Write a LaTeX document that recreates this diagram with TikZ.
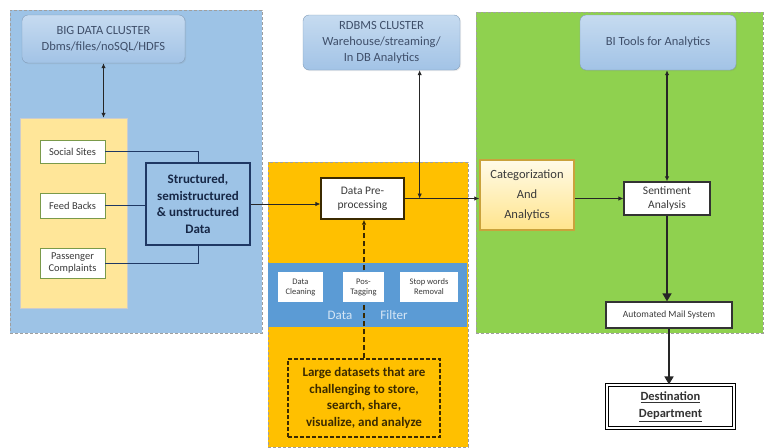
\documentclass[tikz,border=0pt]{standalone}
\usepackage{fontspec}
\setmainfont{Carlito}
\usepackage{tikz}
\usetikzlibrary{arrows.meta, positioning, calc, shadows}

\definecolor{panelblue}{HTML}{9DC3E6}
\definecolor{panelyellow}{HTML}{FFE699}
\definecolor{panelorange}{HTML}{FFC000}
\definecolor{panelgreen}{HTML}{8FD14F}
\definecolor{filterblue}{HTML}{5B9BD5}
\definecolor{clustertop}{HTML}{C6DBF0}
\definecolor{clusterbot}{HTML}{A2C3E6}
\definecolor{clustertext}{HTML}{3F4F6A}
\definecolor{navyline}{HTML}{1F3864}
\definecolor{textgrey}{HTML}{3A3A3A}
\definecolor{srcborder}{HTML}{7A9A4A}
\definecolor{goldborder}{HTML}{C9A23C}
\definecolor{categtop}{HTML}{FFFBE8}
\definecolor{categbot}{HTML}{FFE48C}
\definecolor{darkbrown}{HTML}{3B2A00}

\newcommand{\fsz}[2]{\fontsize{#1}{#2}\selectfont}

\begin{document}
\begin{tikzpicture}[
    x=1pt, y=-1pt,
    >={Latex[length=5pt,width=4.5pt]}
]
    \useasboundingbox (0,0) rectangle (765,447);

    % Styles for panels and blocks
    \tikzstyle{panel} = [draw=gray!75, densely dashed, thin, inner sep=0pt]
    \tikzstyle{cluster} = [rounded corners=6pt, draw=clusterbot!80!black, thin, top color=clustertop, bottom color=clusterbot, align=center, text=clustertext, inner sep=0pt, font=\fsz{12.5}{16}, drop shadow={opacity=0.15, shadow xshift=1pt, shadow yshift=-1pt}]
    \tikzstyle{srcbox} = [draw=srcborder, fill=white, align=center, inner sep=0pt, minimum width=65pt, text=textgrey, font=\fsz{10.5}{12}]
    \tikzstyle{filterbox} = [fill=white, align=center, inner sep=0pt, minimum height=30pt, text=textgrey, font=\fsz{8.5}{10}]
    \tikzstyle{stepbox} = [draw=black!80, fill=white, line width=1.3pt, align=center, inner sep=0pt, text=textgrey]
    \tikzstyle{thickline} = [line width=1.6pt, draw=black!85]

    % Panels
    \node [panel, fill=panelblue, minimum width=252pt, minimum height=323pt] (BluePanel) at (136,171.5) {};
    \node [panel, fill=panelorange, minimum width=200pt, minimum height=285pt] (OrangePanel) at (368,304.5) {};
    \node [panel, fill=panelgreen, minimum width=287pt, minimum height=321pt] (GreenPanel) at (619.5,172.5) {};
    \node [draw=black!20, fill=panelyellow, minimum width=107pt, minimum height=190pt, inner sep=0pt] (SourcePanel) at (73.5,213) {};
    \node [fill=filterblue, minimum width=199pt, minimum height=64pt, inner sep=0pt] (FilterBand) at (367.5,295) {};

    % Clusters (top row)
    \node [cluster, minimum width=163pt, minimum height=48pt] (BigData) at (103.5,39) {BIG DATA CLUSTER\\Dbms/files/noSQL/HDFS};
    \node [cluster, minimum width=157pt, minimum height=55pt] (RDBMS) at (381.5,42.5) {RDBMS CLUSTER\\Warehouse/streaming/\\In DB Analytics};
    \node [cluster, minimum width=156pt, minimum height=55pt] (BITools) at (658,42.5) {BI Tools for Analytics};

    % Data sources
    \node [srcbox, minimum height=23pt] (Social) at (72.5,151.5) {Social Sites};
    \node [srcbox, minimum height=25pt] (Feed) at (72.5,205.5) {Feed Backs};
    \node [srcbox, minimum height=30pt] (Passenger) at (72.5,263) {Passenger\\Complaints};
    \node [draw=navyline, line width=2.2pt, fill=panelblue, align=center, inner sep=0pt, minimum width=104pt, minimum height=82pt, text=navyline!70!black, font=\bfseries\fsz{13}{16.5}] (Struct) at (198,204) {Structured,\\semistructured\\\& unstructured\\Data};

    % Pre-processing
    \node [stepbox, draw=darkbrown, minimum width=83pt, minimum height=41pt, font=\fsz{11.5}{14}] (DataPre) at (362.5,198.5) {Data Pre-\\processing};
    \node [draw=darkbrown, dash pattern=on 4pt off 2pt, line width=1.5pt, fill=panelorange, align=center, inner sep=0pt, minimum width=152pt, minimum height=78pt, text=darkbrown, font=\bfseries\fsz{13}{16.5}] (BigSets) at (364,398) {Large datasets that are\\challenging to store,\\search, share,\\visualize, and analyze};

    % Analytics
    \node [draw=goldborder, line width=1.5pt, top color=categtop, bottom color=categbot, align=center, inner sep=0pt, minimum width=94pt, minimum height=70pt, text=textgrey, font=\fsz{12.5}{20}, drop shadow={opacity=0.2, shadow xshift=1pt, shadow yshift=-1pt}] (Categ) at (527,195) {Categorization\\And\\Analytics};
    \node [stepbox, minimum width=86pt, minimum height=33pt, font=\fsz{11.5}{13.5}] (Sentiment) at (667,198.5) {Sentiment\\Analysis};
    \node [stepbox, minimum width=126pt, minimum height=26pt, font=\fsz{9.5}{11}] (Mail) at (669,315) {Automated Mail System};
    \node [stepbox, draw=black, line width=1.1pt, double=white, double distance=1.2pt, minimum width=127pt, minimum height=43pt, text=black!80, font=\bfseries\fsz{12.5}{17}] (Dest) at (670.5,406.5) {\underline{Destination}\\\underline{Department}};

    % Connections

    % 1. Big data cluster <-> sources
    \draw [<->, thickline] (BigData.south) -- (BigData.south |- SourcePanel.north);

    % 2. Sources -> structured data
    \draw [thin, navyline] (Social.east) -| (Struct.north);
    \draw [thin, navyline] (Feed.east) -- (Feed.east -| Struct.west);
    \draw [thin, navyline] (Passenger.east) -| (Struct.south);

    % 3. Structured data -> pre-processing
    \draw [->, thick, black!85] (Struct.east) -- (Struct.east -| DataPre.west);

    % 4. Pre-processing -> categorization, tap to RDBMS
    \coordinate (Tap) at ($(DataPre.east)+(15,0)$);
    \draw [->, thick, black!85] (DataPre.east) -- (DataPre.east -| Categ.west);
    \draw [<->, thick, black!85] (RDBMS.south -| Tap) -- (Tap);

    % 5. Large datasets -> pre-processing (dashed)
    \draw [->, dash pattern=on 5pt off 3pt, line width=1.5pt, darkbrown] (BigSets.north) -- (BigSets.north |- DataPre.south);

    % Data filter steps (over the dashed line)
    \node [filterbox, minimum width=45pt] (Cleaning) at (300.5,287) {Data\\Cleaning};
    \node [filterbox, minimum width=41pt] (PosTag) at (363.5,287) {Pos-\\Tagging};
    \node [filterbox, minimum width=58pt] (StopWord) at (429,287) {Stop words\\Removal};
    \node [text=filterblue!25, font=\fsz{13}{15}, inner sep=0pt] (FilterA) at (340,315) {Data};
    \node [text=filterblue!25, font=\fsz{13}{15}, inner sep=0pt] (FilterB) at (394,315) {Filter};

    % 6. Categorization -> sentiment
    \draw [->, thick, black!85] (Sentiment.west -| Categ.east) -- (Sentiment.west);

    % 7. BI tools <-> sentiment
    \draw [<->, thickline] (Sentiment.north) -- (Sentiment.north |- BITools.south);

    % 8. Sentiment -> mail -> destination
    \draw [-{Triangle[length=8pt,width=9pt]}, thickline] (Sentiment.south) -- (Sentiment.south |- Mail.north);
    \draw [-{Triangle[length=8pt,width=9pt]}, thickline] (Mail.south) -- (Mail.south |- Dest.north);

\end{tikzpicture}
\end{document}
